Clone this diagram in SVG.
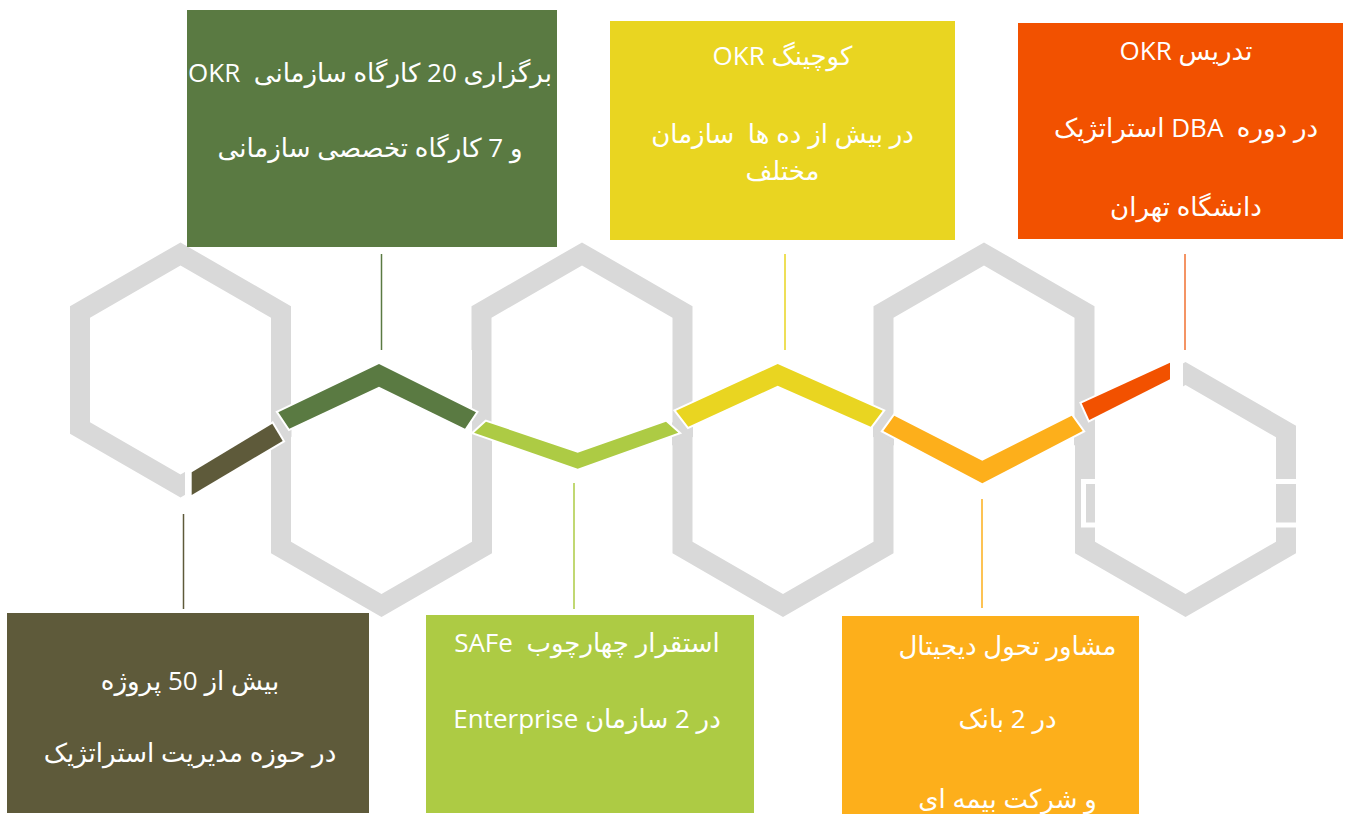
<svg xmlns="http://www.w3.org/2000/svg" xmlns:xlink="http://www.w3.org/1999/xlink" width="1346" height="814" viewBox="0 0 1346 814">
<style>
.hex{fill:#D9D9D9;fill-rule:evenodd}
.eraser{fill:#FFFFFF}
.conn{stroke:#FFFFFF;stroke-width:4;stroke-linejoin:miter;paint-order:stroke}
.lead{stroke-width:1.5;fill:none}
.lbl{font-family:"Open Sans","DejaVu Sans",sans-serif;font-size:26px;fill:#FFFFFF;text-anchor:middle;direction:rtl;white-space:pre}
.lt{font-size:26px}
</style>
<defs>
<path id="hx" d="M0,-127.6 L110.5,-63.8 L110.5,63.8 L0,127.6 L-110.5,63.8 L-110.5,-63.8 Z M0,-104.5 L90.5,-52.25 L90.5,52.25 L0,104.5 L-90.5,52.25 L-90.5,-52.25 Z"/>
</defs>
<g id="hexagons">
<use xlink:href="#hx" class="hex" transform="translate(180.5,370)"/>
<use xlink:href="#hx" class="hex" transform="translate(381.5,489.5)"/>
<use xlink:href="#hx" class="hex" transform="translate(582,370)"/>
<use xlink:href="#hx" class="hex" transform="translate(783,489.5)"/>
<use xlink:href="#hx" class="hex" transform="translate(984,370)"/>
<use xlink:href="#hx" class="hex" transform="translate(1185.5,489.5)"/>
<rect class="eraser" x="185" y="415" width="85.5" height="88"/>
<rect class="eraser" x="291.5" y="350" width="180.5" height="90"/>
<rect class="eraser" x="492" y="415" width="180" height="95"/>
<rect class="eraser" x="693" y="350" width="180" height="90"/>
<rect class="eraser" x="894" y="415" width="180" height="95"/>
<rect class="eraser" x="1095" y="340" width="88" height="100"/>
<rect x="1083.5" y="481.5" width="240" height="43.5" fill="none" stroke="#FFFFFF" stroke-width="5"/>
</g>
<g id="connectors">
<polygon class="conn" fill="#5E5A3A" points="191.7,472.3 272.3,423.7 282.7,441 191.7,495"/>
<polygon class="conn" fill="#5A7A42" points="278.3,412.3 379,364 476,412.3 465,428.7 379,386.7 289.3,428.7"/>
<polygon class="conn" fill="#ADCB44" points="474,432.7 486,421.7 577.7,452.7 666,421.7 678.3,432.7 577.7,468.7"/>
<polygon class="conn" fill="#E9D521" points="676,410.7 777.7,364 882.7,410.7 870.7,426.7 777.7,385.7 688.3,426.7"/>
<polygon class="conn" fill="#FDAF1B" points="883.3,431 894.3,415.7 982.3,460.7 1071.7,415.7 1082.7,431 982.3,483.3"/>
<polygon class="conn" fill="#F25100" stroke-width="8" points="1081.7,403.3 1170,362.7 1170,379.3 1089.3,420"/>
<line class="lead" stroke="#5E5A3A" x1="183.5" y1="514" x2="183.5" y2="609"/>
<line class="lead" stroke="#5A7A42" x1="381.5" y1="254" x2="381.5" y2="350"/>
<line class="lead" stroke="#ADCB44" x1="574" y1="483" x2="574" y2="609"/>
<line class="lead" stroke="#E9D521" x1="785" y1="254" x2="785" y2="350"/>
<line class="lead" stroke="#FDAF1B" x1="982" y1="499" x2="982" y2="608"/>
<line class="lead" stroke="#F07030" x1="1185" y1="254" x2="1185" y2="350"/>
</g>
<g id="box-workshops">
<rect x="187" y="10" width="370" height="237" fill="#5A7A42"/>
<text class="lbl" x="370" y="82">برگزاری <tspan class="lt">20</tspan> کارگاه سازمانی  <tspan class="lt">OKR</tspan></text>
<text class="lbl" x="370" y="157">و <tspan class="lt">7</tspan> کارگاه تخصصی سازمانی</text>
</g>
<g id="box-coaching">
<rect x="610" y="21" width="345" height="219" fill="#E9D521"/>
<text class="lbl" x="782.5" y="65">کوچینگ <tspan class="lt">OKR</tspan></text>
<text class="lbl" x="782.5" y="143">در بیش از ده ها  سازمان</text>
<text class="lbl" x="782.5" y="180">مختلف</text>
</g>
<g id="box-teaching">
<rect x="1018" y="23" width="325" height="216" fill="#F25100"/>
<text class="lbl" x="1186" y="60">تدریس <tspan class="lt">OKR</tspan></text>
<text class="lbl" x="1186" y="137">در دوره  <tspan class="lt">DBA</tspan> استراتژیک</text>
<text class="lbl" x="1186" y="216">دانشگاه تهران</text>
</g>
<g id="box-projects">
<rect x="7" y="613" width="362" height="200" fill="#5E5A3A"/>
<text class="lbl" x="190" y="690">بیش از <tspan class="lt">50</tspan> پروژه</text>
<text class="lbl" x="190" y="762">در حوزه مدیریت استراتژیک</text>
</g>
<g id="box-safe">
<rect x="426" y="615" width="328" height="198" fill="#ADCB44"/>
<text class="lbl" x="587" y="652">استقرار چهارچوب  <tspan class="lt">SAFe</tspan></text>
<text class="lbl" x="587" y="728">در <tspan class="lt">2</tspan> سازمان <tspan class="lt">Enterprise</tspan></text>
</g>
<g id="box-digital">
<rect x="842" y="616" width="297" height="198" fill="#FDAF1B"/>
<text class="lbl" x="1007.5" y="655">مشاور تحول دیجیتال</text>
<text class="lbl" x="1007.5" y="728">در <tspan class="lt">2</tspan> بانک</text>
<text class="lbl" x="1007.5" y="808">و شرکت بیمه ای</text>
</g>
</svg>
